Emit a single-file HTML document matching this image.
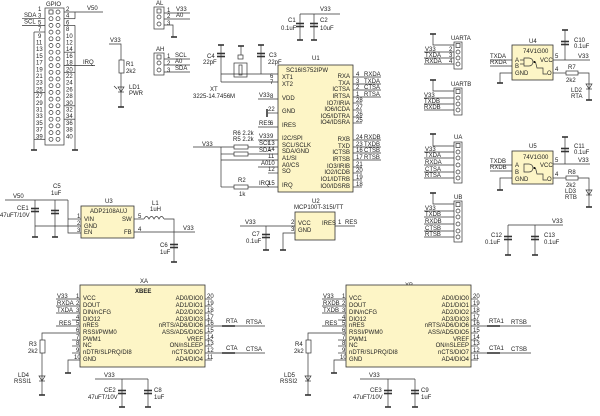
<!DOCTYPE html>
<html><head><meta charset="utf-8"><style>
html,body{margin:0;padding:0;background:#fff}
svg{display:block}
text{font-family:"Liberation Sans",sans-serif;font-size:6px;fill:#222}
.c{fill:#fdf5c6;stroke:#333;stroke-width:.8}
line,polyline,path{stroke:#333;stroke-width:.7;fill:none}
.g{stroke-width:1.6}
.b{fill:#fff;stroke:#333;stroke-width:.7}
</style></head><body>
<svg width="600" height="416" viewBox="0 0 600 416" xmlns="http://www.w3.org/2000/svg">
<defs>
<g id="pin"><circle cx="51" cy="0" r="2" class="b"/><circle cx="58" cy="0" r="2" class="b"/></g>
<g id="cap"><line x1="-4" y1="-1.5" x2="4" y2="-1.5" class="g"/><line x1="-4" y1="1.5" x2="4" y2="1.5" class="g"/></g>
<g id="gnd"><line x1="-3" y1="0" x2="3" y2="0" class="g"/></g>
<g id="led"><path d="M-3 -2 L3 -2 L0 3 Z" fill="#333"/><line x1="-3" y1="3" x2="3" y2="3"/></g>
</defs>

<!-- GPIO -->
<text x="46" y="6">GPIO</text>
<rect x="45" y="8" width="19" height="137" class="b"/>
<use href="#pin" y="12"/><use href="#pin" y="18.7"/><use href="#pin" y="25.4"/><use href="#pin" y="32.1"/><use href="#pin" y="38.8"/><use href="#pin" y="45.5"/><use href="#pin" y="52.2"/><use href="#pin" y="58.9"/><use href="#pin" y="65.6"/><use href="#pin" y="72.3"/><use href="#pin" y="79"/><use href="#pin" y="85.7"/><use href="#pin" y="92.4"/><use href="#pin" y="99.1"/><use href="#pin" y="105.8"/><use href="#pin" y="112.5"/><use href="#pin" y="119.2"/><use href="#pin" y="125.9"/><use href="#pin" y="132.6"/><use href="#pin" y="139.3"/>
<rect x="49" y="10" width="4" height="4" class="b"/>
<g font-size="5.5">
<text x="38" y="11">1</text><text x="38" y="17.7">3</text><text x="38" y="24.4">5</text><text x="38" y="31.1">7</text><text x="38" y="37.8">9</text><text x="36" y="44.5">11</text><text x="36" y="51.2">13</text><text x="36" y="57.9">15</text><text x="36" y="64.6">17</text><text x="36" y="71.3">19</text><text x="36" y="78">21</text><text x="36" y="84.7">23</text><text x="36" y="91.4">25</text><text x="36" y="98.1">27</text><text x="36" y="104.8">29</text><text x="36" y="111.5">31</text><text x="36" y="118.2">33</text><text x="36" y="124.9">35</text><text x="36" y="131.6">37</text><text x="36" y="138.3">39</text>
<text x="66" y="11">2</text><text x="66" y="17.7">4</text><text x="66" y="24.4">6</text><text x="66" y="31.1">8</text><text x="66" y="37.8">10</text><text x="66" y="44.5">12</text><text x="66" y="51.2">14</text><text x="66" y="57.9">16</text><text x="66" y="64.6">18</text><text x="66" y="71.3">20</text><text x="66" y="78">22</text><text x="66" y="84.7">24</text><text x="66" y="91.4">26</text><text x="66" y="98.1">28</text><text x="66" y="104.8">30</text><text x="66" y="111.5">32</text><text x="66" y="118.2">34</text><text x="66" y="124.9">36</text><text x="66" y="131.6">38</text><text x="66" y="138.3">40</text>
</g>
<line x1="64" y1="12" x2="103" y2="12"/><line x1="64" y1="18.7" x2="75" y2="18.7"/><line x1="75" y1="12" x2="75" y2="18.7"/>
<text x="87" y="10">V50</text>
<line x1="22" y1="18.7" x2="45" y2="18.7"/><text x="24" y="17">SDA</text>
<line x1="22" y1="25.4" x2="45" y2="25.4"/><text x="24" y="23.5">SCL</text>
<line x1="64" y1="65.6" x2="95" y2="65.6"/><text x="83" y="64">IRQ</text>
<line x1="34" y1="32" x2="45" y2="32"/><line x1="34" y1="32" x2="34" y2="150"/>
<line x1="34" y1="92.4" x2="45" y2="92.4"/><line x1="34" y1="139.3" x2="45" y2="139.3"/>
<line x1="64" y1="25.4" x2="75" y2="25.4"/><line x1="75" y1="25.4" x2="75" y2="150"/>
<line x1="64" y1="52.2" x2="75" y2="52.2"/><line x1="64" y1="72.3" x2="75" y2="72.3"/><line x1="64" y1="105.8" x2="75" y2="105.8"/><line x1="64" y1="119.2" x2="75" y2="119.2"/>
<use href="#gnd" x="34" y="150"/><use href="#gnd" x="75" y="150"/>

<!-- R1 LD1 -->
<text x="110" y="42">V33</text>
<polyline points="109,44 121,44 121,60"/>
<rect x="119" y="60" width="5" height="13" class="b"/>
<line x1="121" y1="73" x2="121" y2="107"/>
<use href="#led" x="121" y="89"/><use href="#gnd" x="121" y="107"/>
<text x="126" y="66">R1</text><text x="126" y="73">2k2</text>
<text x="129" y="89">LD1</text><text x="129" y="95">PWR</text>
<line x1="114" y1="86" x2="117" y2="89"/>

<!-- AL / AH -->
<text x="156" y="5">AL</text>
<rect x="154" y="7" width="10" height="22" class="b"/>
<rect x="157" y="9" width="4" height="4" class="b"/><circle cx="159" cy="17" r="2" class="b"/><circle cx="159" cy="24" r="2" class="b"/>
<text x="167" y="12">1</text><text x="167" y="18">2</text><text x="167" y="25">3</text>
<line x1="164" y1="13" x2="190" y2="13"/><text x="176" y="11">V33</text>
<line x1="164" y1="19" x2="190" y2="19"/><text x="176" y="17">A0</text>
<polyline points="164,25 173,25 173,37"/><use href="#gnd" x="174" y="37"/>
<text x="156" y="51">AH</text>
<rect x="154" y="53" width="10" height="22" class="b"/>
<rect x="157" y="55" width="4" height="4" class="b"/><circle cx="159" cy="63" r="2" class="b"/><circle cx="159" cy="70" r="2" class="b"/>
<text x="167" y="58">1</text><text x="167" y="65">2</text><text x="167" y="72">3</text>
<line x1="164" y1="59" x2="190" y2="59"/><text x="175" y="57">SCL</text>
<line x1="164" y1="65" x2="190" y2="65"/><text x="175" y="63">A0</text>
<line x1="164" y1="72" x2="190" y2="72"/><text x="175" y="70">SDA</text>

<!-- C1 C2 -->
<text x="288" y="22">C1</text><text x="281" y="30">0.1uF</text>
<text x="320" y="22">C2</text><text x="320" y="30">10uF</text>
<line x1="300" y1="14" x2="340" y2="14"/><text x="320" y="11">V33</text>
<line x1="300" y1="14" x2="300" y2="40"/><use href="#cap" x="300" y="25"/><use href="#gnd" x="300" y="40"/>
<line x1="314" y1="14" x2="314" y2="40"/><use href="#cap" x="314" y="25"/><use href="#gnd" x="314" y="40"/>

<!-- crystal -->
<use href="#gnd" x="221" y="45"/><line x1="221" y1="45" x2="221" y2="82"/><use href="#cap" x="221" y="55"/>
<use href="#gnd" x="261" y="45"/><line x1="261" y1="45" x2="261" y2="74"/><use href="#cap" x="261" y="55"/>
<text x="207" y="58">C4</text><text x="203" y="64">22pF</text>
<text x="269" y="57">C3</text><text x="268" y="64">22pF</text>
<rect x="234" y="63" width="13" height="14" class="b"/><rect x="239" y="65" width="3" height="10" class="b"/>
<rect x="238" y="55" width="5" height="4" class="b"/><line x1="241" y1="46" x2="241" y2="55"/><use href="#gnd" x="241" y="46"/>
<line x1="221" y1="74" x2="278" y2="74"/><polyline points="221,82 278,82"/>
<text x="210" y="91">XT</text><text x="193" y="98">3225-14.7456M</text>

<!-- U1 -->
<text x="312" y="60">U1</text>
<rect x="278" y="65" width="75" height="127" class="c"/>
<text x="286" y="72">SC16IS752IPW</text>
<g font-size="5.6">
<text x="282" y="79">XT1</text><text x="282" y="86">XT2</text><text x="282" y="100">VDD</text><text x="282" y="113">GND</text><text x="282" y="127">IRES</text><text x="282" y="140">I2C/SPI</text><text x="282" y="147">SCL/SCLK</text><text x="282" y="153">SDA/GND</text><text x="282" y="160">A1/SI</text><text x="282" y="167">A0/CS</text><text x="282" y="173">SO</text><text x="282" y="187">IRQ</text>
<g text-anchor="end"><text x="350" y="78">RXA</text><text x="350" y="85">TXA</text><text x="350" y="91">ICTSA</text><text x="350" y="98">IRTSA</text><text x="350" y="105">IO7/IRIA</text><text x="350" y="111">IO6/ICDA</text><text x="350" y="118">IO5/IDTRA</text><text x="350" y="124">IO4/IDSRA</text><text x="350" y="141">RXB</text><text x="350" y="148">TXD</text><text x="350" y="154">ICTSB</text><text x="350" y="161">IRTSB</text><text x="350" y="168">IO3/IRIB</text><text x="350" y="174">IO2/ICDB</text><text x="350" y="181">IO1/IDTRB</text><text x="350" y="188">IO0/IDSRB</text></g>
<text x="270" y="78">6</text><text x="270" y="84">7</text><text x="270" y="98">8</text><text x="268" y="111">22</text><text x="270" y="125">6</text><text x="270" y="138">9</text><text x="268" y="145">13</text><text x="268" y="151">14</text><text x="268" y="158">11</text><text x="268" y="165">10</text><text x="268" y="171">12</text><text x="268" y="185">15</text>
<text x="356" y="76">4</text><text x="356" y="83">3</text><text x="356" y="89">2</text><text x="356" y="96">1</text><text x="356" y="102">28</text><text x="356" y="109">27</text><text x="356" y="116">26</text><text x="356" y="122">25</text><text x="356" y="139">24</text><text x="356" y="146">23</text><text x="356" y="152">16</text><text x="356" y="159">17</text><text x="356" y="166">21</text><text x="356" y="172">20</text><text x="356" y="179">19</text><text x="356" y="186">18</text>
<text x="364" y="76">RXDA</text><text x="364" y="83">TXDA</text><text x="364" y="89">CTSA</text><text x="364" y="96">RTSA</text>
<text x="364" y="139">RXDB</text><text x="364" y="146">TXDB</text><text x="364" y="152">CTSB</text><text x="364" y="159">RTSB</text>
</g>
<g>
<line x1="353" y1="77" x2="381" y2="77"/><line x1="353" y1="84" x2="381" y2="84"/><line x1="353" y1="90" x2="381" y2="90"/><line x1="353" y1="97" x2="381" y2="97"/>
<line x1="353" y1="103" x2="362" y2="103"/><line x1="353" y1="110" x2="362" y2="110"/><line x1="353" y1="117" x2="362" y2="117"/><line x1="353" y1="123" x2="362" y2="123"/>
<line x1="353" y1="140" x2="381" y2="140"/><line x1="353" y1="147" x2="381" y2="147"/><line x1="353" y1="153" x2="381" y2="153"/><line x1="353" y1="160" x2="381" y2="160"/>
<line x1="353" y1="167" x2="362" y2="167"/><line x1="353" y1="173" x2="362" y2="173"/><line x1="353" y1="180" x2="362" y2="180"/><line x1="353" y1="187" x2="362" y2="187"/>
</g>
<line x1="258" y1="99" x2="278" y2="99"/><text x="259" y="97">V33</text>
<line x1="268" y1="113" x2="278" y2="113"/><line x1="267" y1="109" x2="267" y2="117" class="g"/>
<line x1="258" y1="127" x2="278" y2="127"/><text x="259" y="125">RES</text>
<line x1="258" y1="140" x2="278" y2="140"/><text x="259" y="138">V33</text>
<line x1="193" y1="147" x2="278" y2="147"/><text x="202" y="146">V33</text>
<line x1="221" y1="147" x2="221" y2="187"/>
<rect x="234" y="145" width="14" height="4" class="b"/><rect x="234" y="152" width="14" height="4" class="b"/>
<line x1="221" y1="154" x2="234" y2="154"/><line x1="248" y1="154" x2="278" y2="154"/>
<text x="259" y="145">SCL</text><text x="259" y="152">SDA</text>
<text x="233" y="135">R6 2.2k</text><text x="233" y="141">R5 2.2k</text>
<line x1="221" y1="160" x2="278" y2="160"/>
<line x1="258" y1="167" x2="278" y2="167"/><text x="261" y="165">A0</text>
<line x1="268" y1="173" x2="278" y2="173"/>
<line x1="221" y1="187" x2="234" y2="187"/><rect x="234" y="185" width="14" height="4" class="b"/><line x1="248" y1="187" x2="278" y2="187"/>
<text x="238" y="182">R2</text><text x="239" y="196">1k</text><text x="259" y="185">IRQ</text>

<!-- U2 -->
<text x="312" y="203">U2</text><text x="294" y="209">MCP100T-315I/TT</text>
<rect x="295" y="212" width="40" height="28" class="c"/>
<text x="298" y="225">VCC</text><text x="298" y="232">GND</text><text x="322" y="225">IRES</text>
<line x1="240" y1="226" x2="295" y2="226"/><text x="245" y="224">V33</text>
<text x="291" y="224">2</text><text x="291" y="231">3</text>
<line x1="266" y1="226" x2="266" y2="250"/><use href="#cap" x="266" y="236"/><use href="#gnd" x="266" y="250"/>
<text x="252" y="236">C7</text><text x="246" y="243">0.1uF</text>
<polyline points="295,233 283,233 283,250"/><use href="#gnd" x="283" y="250"/>
<line x1="335" y1="226" x2="355" y2="226"/><text x="338" y="224">1</text><text x="345" y="224">RES</text>

<!-- U3 -->
<text x="105" y="203">U3</text>
<rect x="81" y="206" width="53" height="32" class="c"/>
<text x="90" y="213">ADP2108AUJ</text>
<text x="84" y="221">VIN</text><text x="84" y="228">GND</text><text x="84" y="234">EN</text>
<text x="122" y="221">SW</text><text x="124" y="234">FB</text>
<text x="77" y="218">1</text><text x="77" y="225">2</text><text x="77" y="232">3</text><text x="138" y="218">5</text><text x="138" y="231">4</text>
<line x1="5" y1="200" x2="68" y2="200"/><text x="13" y="198">V50</text>
<polyline points="68,200 68,233 81,233"/><line x1="68" y1="219" x2="81" y2="219"/>
<line x1="35" y1="226" x2="81" y2="226"/>
<line x1="35" y1="200" x2="35" y2="237"/><use href="#cap" x="35" y="210"/><use href="#gnd" x="35" y="237"/>
<line x1="55" y1="200" x2="55" y2="237"/><use href="#cap" x="55" y="212"/><use href="#gnd" x="55" y="237"/>
<text x="17" y="210">CE1</text><text x="0" y="217">47uFT/10V</text>
<text x="53" y="188">C5</text><text x="51" y="195">1uF</text>
<line x1="134" y1="219" x2="144" y2="219"/>
<path d="M144 219 q2.5 -5 5 0 q2.5 -5 5 0 q2.5 -5 5 0 q2.5 -5 5 0"/>
<polyline points="164,219 174,219 174,262"/><use href="#cap" x="174" y="246"/><use href="#gnd" x="174" y="262"/>
<line x1="134" y1="232" x2="195" y2="232"/><text x="183" y="230">V33</text>
<text x="152" y="205">L1</text><text x="150" y="211">1uH</text>
<text x="160" y="247">C6</text><text x="160" y="254">1uF</text>

<!-- UARTA etc -->
<g id="uarta">
<text x="451" y="40">UARTA</text>
<rect x="454" y="42" width="8" height="27" class="b"/>
<rect x="456" y="43.5" width="4" height="4" class="b"/><circle cx="458" cy="52" r="2" class="b"/><circle cx="458" cy="58" r="2" class="b"/><circle cx="458" cy="64" r="2" class="b"/>
<polyline points="433,34 433,45 454,45"/><use href="#gnd" x="433" y="34"/>
<line x1="424" y1="52" x2="454" y2="52"/><line x1="424" y1="58" x2="454" y2="58"/><line x1="424" y1="64" x2="454" y2="64"/>
<text x="425" y="51">V33</text><text x="425" y="57">TXDA</text><text x="425" y="63">RXDA</text>
<text x="449" y="51">2</text><text x="449" y="57">3</text><text x="449" y="63">4</text>
</g>
<text x="451" y="86">UARTB</text>
<rect x="454" y="88" width="8" height="27" class="b"/>
<rect x="456" y="89.5" width="4" height="4" class="b"/><circle cx="458" cy="98" r="2" class="b"/><circle cx="458" cy="104" r="2" class="b"/><circle cx="458" cy="110" r="2" class="b"/>
<polyline points="433,80 433,91 454,91"/><use href="#gnd" x="433" y="80"/>
<line x1="424" y1="98" x2="454" y2="98"/><line x1="424" y1="104" x2="454" y2="104"/><line x1="424" y1="110" x2="454" y2="110"/>
<text x="424" y="97">V33</text><text x="424" y="103">TXDB</text><text x="424" y="109">RXDB</text>

<text x="454" y="139">UA</text>
<rect x="454" y="142" width="8" height="41" class="b"/>
<rect x="456" y="143.5" width="4" height="4" class="b"/><circle cx="458" cy="152" r="2" class="b"/><circle cx="458" cy="158" r="2" class="b"/><circle cx="458" cy="165" r="2" class="b"/><circle cx="458" cy="172" r="2" class="b"/><circle cx="458" cy="178" r="2" class="b"/>
<polyline points="433,134 433,146 454,146"/><use href="#gnd" x="433" y="134"/>
<line x1="424" y1="152" x2="454" y2="152"/><line x1="424" y1="158" x2="454" y2="158"/><line x1="424" y1="165" x2="454" y2="165"/><line x1="424" y1="172" x2="454" y2="172"/><line x1="424" y1="178" x2="454" y2="178"/>
<text x="425" y="151">V33</text><text x="425" y="157">TXDA</text><text x="425" y="164">RXDA</text><text x="425" y="171">CTSA</text><text x="425" y="177">RTSA</text>

<text x="454" y="199">UB</text>
<rect x="454" y="201" width="8" height="41" class="b"/>
<rect x="456" y="202.5" width="4" height="4" class="b"/><circle cx="458" cy="211" r="2" class="b"/><circle cx="458" cy="217" r="2" class="b"/><circle cx="458" cy="224" r="2" class="b"/><circle cx="458" cy="231" r="2" class="b"/><circle cx="458" cy="237" r="2" class="b"/>
<polyline points="433,193 433,204 454,204"/><use href="#gnd" x="433" y="193"/>
<line x1="424" y1="211" x2="454" y2="211"/><line x1="424" y1="217" x2="454" y2="217"/><line x1="424" y1="224" x2="454" y2="224"/><line x1="424" y1="231" x2="454" y2="231"/><line x1="424" y1="237" x2="454" y2="237"/>
<text x="425" y="210">V33</text><text x="425" y="216">TXDB</text><text x="425" y="223">RXDB</text><text x="425" y="230">CTSB</text><text x="425" y="236">RTSB</text>

<!-- U4 -->
<text x="529" y="43">U4</text>
<rect x="512" y="45" width="41" height="35" class="c"/>
<text x="523" y="53">74V1G00</text>
<text x="515" y="62">A</text><text x="515" y="68">B</text><text x="515" y="75">GND</text><text x="540" y="62">VCC</text><text x="547" y="75">O</text>
<path d="M524 58 h5 a4 4 0 0 1 0 8 h-5 z"/><circle cx="534.5" cy="62" r="1"/><polyline points="535.5,62 537,68 543,68 543,74 547,74"/>
<line x1="520" y1="60" x2="524" y2="60"/><line x1="520" y1="64" x2="524" y2="64"/>
<line x1="490" y1="60" x2="512" y2="60"/><line x1="490" y1="66" x2="512" y2="66"/>
<text x="490" y="58">TXDA</text><text x="490" y="64">RXDA</text>
<polyline points="512,73 500,73 500,83"/><use href="#gnd" x="500" y="83"/>
<line x1="553" y1="60" x2="590" y2="60"/><text x="578" y="58">V33</text><text x="555" y="58">5</text>
<line x1="565" y1="30" x2="565" y2="60"/><use href="#gnd" x="565" y="30"/><use href="#cap" x="565" y="43"/>
<text x="574" y="42">C10</text><text x="574" y="48">0.1uF</text>
<line x1="553" y1="73" x2="566" y2="73"/><text x="555" y="71">4</text>
<rect x="566" y="71" width="12" height="4" class="b"/><polyline points="578,73 589,73 589,100"/>
<use href="#led" x="589" y="86"/><use href="#gnd" x="589" y="100"/>
<text x="568" y="69">R7</text><text x="566" y="82">2k2</text><text x="571" y="92">LD2</text><text x="571" y="98">RTA</text>

<!-- U5 -->
<text x="529" y="148">U5</text>
<rect x="512" y="151" width="41" height="33" class="c"/>
<text x="523" y="159">74V1G00</text>
<text x="515" y="167">A</text><text x="515" y="174">B</text><text x="515" y="181">GND</text><text x="540" y="167">VCC</text><text x="547" y="181">O</text>
<path d="M524 164 h5 a4 4 0 0 1 0 8 h-5 z"/><circle cx="534.5" cy="168" r="1"/><polyline points="535.5,168 537,174 543,174 543,180 547,180"/>
<line x1="490" y1="165" x2="512" y2="165"/><line x1="490" y1="171" x2="512" y2="171"/>
<text x="490" y="163">TXDB</text><text x="490" y="169">RXDB</text>
<polyline points="512,178 500,178 500,190"/><use href="#gnd" x="500" y="190"/>
<line x1="553" y1="164" x2="590" y2="164"/><text x="578" y="162">V33</text><text x="555" y="162">5</text>
<line x1="565" y1="137" x2="565" y2="164"/><use href="#gnd" x="565" y="137"/><use href="#cap" x="565" y="150"/>
<text x="574" y="148">C11</text><text x="574" y="154">0.1uF</text>
<line x1="553" y1="178" x2="566" y2="178"/><text x="555" y="176">4</text>
<rect x="566" y="176" width="12" height="4" class="b"/><polyline points="578,178 589,178 589,207"/>
<use href="#led" x="589" y="192"/><use href="#gnd" x="589" y="207"/>
<text x="568" y="174">R8</text><text x="566" y="187">2k2</text><text x="565" y="193">LD3</text><text x="565" y="199">RTB</text>

<!-- C12 C13 -->
<line x1="508" y1="225" x2="563" y2="225"/><text x="552" y="223">V33</text>
<line x1="508" y1="225" x2="508" y2="255"/><use href="#cap" x="508" y="238"/><use href="#gnd" x="508" y="255"/>
<line x1="535" y1="225" x2="535" y2="255"/><use href="#cap" x="535" y="238"/><use href="#gnd" x="535" y="255"/>
<text x="491" y="237">C12</text><text x="485" y="244">0.1uF</text><text x="544" y="237">C13</text><text x="544" y="244">0.1uF</text>

<!-- XA -->
<text x="140" y="283">XA</text>
<rect x="80" y="285" width="125" height="82" class="c"/>
<text x="135" y="293" font-weight="bold">XBEE</text>
<g font-size="5.6">
<text x="83" y="300">VCC</text><text x="83" y="307">DOUT</text><text x="83" y="314">DIN/nCFG</text><text x="83" y="321">DIO12</text><text x="83" y="327">nRES</text><text x="83" y="334">RSSI/PWM0</text><text x="83" y="341">PWM1</text><text x="83" y="347">NC</text><text x="83" y="354">nDTR/SLPRQ/DI8</text><text x="83" y="361">GND</text>
<g text-anchor="end"><text x="203" y="300">AD0/DIO0</text><text x="203" y="307">AD1/DIO1</text><text x="203" y="314">AD2/DIO2</text><text x="203" y="321">AD3/DIO3</text><text x="203" y="327">nRTS/AD6/DIO6</text><text x="203" y="334">ASS/AD5/DIO5</text><text x="203" y="341">VREF</text><text x="203" y="347">ON/nSLEEP</text><text x="203" y="354">nCTS/DIO7</text><text x="203" y="361">AD4/DIO4</text></g>
<text x="76" y="298">1</text><text x="76" y="305">2</text><text x="76" y="312">3</text><text x="76" y="319">4</text><text x="76" y="325">5</text><text x="76" y="332">6</text><text x="76" y="339">7</text><text x="76" y="345">8</text><text x="76" y="352">9</text><text x="74" y="359">10</text>
<text x="207" y="298">20</text><text x="207" y="305">19</text><text x="207" y="312">18</text><text x="207" y="319">17</text><text x="207" y="325">16</text><text x="207" y="332">15</text><text x="207" y="339">14</text><text x="207" y="345">13</text><text x="207" y="352">12</text><text x="207" y="359">11</text>
<text x="57" y="298">V33</text><text x="57" y="305">RXDA</text><text x="57" y="312">TXDA</text><text x="59" y="325">RES</text>
</g>
<line x1="56" y1="299" x2="80" y2="299"/><line x1="56" y1="306" x2="80" y2="306"/><line x1="56" y1="313" x2="80" y2="313"/><line x1="72" y1="320" x2="80" y2="320"/><line x1="56" y1="326" x2="80" y2="326"/>
<polyline points="80,333 42,333 42,340"/><rect x="40" y="340" width="5" height="13" class="b"/><line x1="42" y1="353" x2="42" y2="395"/><use href="#led" x="42" y="378"/><use href="#gnd" x="42" y="395"/>
<line x1="72" y1="340" x2="80" y2="340"/><line x1="72" y1="346" x2="80" y2="346"/><line x1="72" y1="353" x2="80" y2="353"/>
<polyline points="80,360 68,360 68,373"/><use href="#gnd" x="68" y="373"/>
<text x="29" y="346">R3</text><text x="28" y="353">2k2</text><text x="18" y="377">LD4</text><text x="14" y="383">RSSI1</text>
<line x1="205" y1="299" x2="212" y2="299"/><line x1="205" y1="306" x2="212" y2="306"/><line x1="205" y1="313" x2="212" y2="313"/><line x1="205" y1="320" x2="212" y2="320"/><line x1="205" y1="333" x2="212" y2="333"/><line x1="205" y1="340" x2="212" y2="340"/><line x1="205" y1="346" x2="212" y2="346"/><line x1="205" y1="360" x2="212" y2="360"/>
<line x1="205" y1="326" x2="265" y2="326"/><line x1="222" y1="326" x2="235" y2="326" class="g"/><text x="226" y="323">RTA</text><text x="246" y="324">RTSA</text>
<line x1="205" y1="353" x2="265" y2="353"/><line x1="222" y1="353" x2="235" y2="353" class="g"/><text x="226" y="350">CTA</text><text x="246" y="351">CTSA</text>
<line x1="95" y1="379" x2="148" y2="379"/><text x="104" y="377">V33</text>
<line x1="122" y1="379" x2="122" y2="407"/><use href="#cap" x="122" y="392"/><use href="#gnd" x="122" y="407"/>
<line x1="148" y1="379" x2="148" y2="407"/><use href="#cap" x="148" y="392"/><use href="#gnd" x="148" y="407"/>
<text x="104" y="392">CE2</text><text x="88" y="399">47uFT/10V</text><text x="154" y="392">C8</text><text x="154" y="399">1uF</text>

<!-- XB -->
<text x="405" y="287">XB</text>
<rect x="346" y="285" width="125" height="82" class="c"/>
<g font-size="5.6">
<text x="349" y="300">VCC</text><text x="349" y="307">DOUT</text><text x="349" y="314">DIN/nCFG</text><text x="349" y="321">DIO12</text><text x="349" y="327">nRES</text><text x="349" y="334">RSSI/PWM0</text><text x="349" y="341">PWM1</text><text x="349" y="347">NC</text><text x="349" y="354">nDTR/SLPRQ/DI8</text><text x="349" y="361">GND</text>
<g text-anchor="end"><text x="469" y="300">AD0/DIO0</text><text x="469" y="307">AD1/DIO1</text><text x="469" y="314">AD2/DIO2</text><text x="469" y="321">AD3/DIO3</text><text x="469" y="327">nRTS/AD6/DIO6</text><text x="469" y="334">ASS/AD5/DIO5</text><text x="469" y="341">VREF</text><text x="469" y="347">ON/nSLEEP</text><text x="469" y="354">nCTS/DIO7</text><text x="469" y="361">AD4/DIO4</text></g>
<text x="342" y="298">1</text><text x="342" y="305">2</text><text x="342" y="312">3</text><text x="342" y="319">4</text><text x="342" y="325">5</text><text x="342" y="332">6</text><text x="342" y="339">7</text><text x="342" y="345">8</text><text x="342" y="352">9</text><text x="340" y="359">10</text>
<text x="473" y="298">20</text><text x="473" y="305">19</text><text x="473" y="312">18</text><text x="473" y="319">17</text><text x="473" y="325">16</text><text x="473" y="332">15</text><text x="473" y="339">14</text><text x="473" y="345">13</text><text x="473" y="352">12</text><text x="473" y="359">11</text>
<text x="323" y="298">V33</text><text x="323" y="305">RXDB</text><text x="323" y="312">TXDB</text><text x="325" y="325">RES</text>
</g>
<line x1="322" y1="299" x2="346" y2="299"/><line x1="322" y1="306" x2="346" y2="306"/><line x1="322" y1="313" x2="346" y2="313"/><line x1="338" y1="320" x2="346" y2="320"/><line x1="322" y1="326" x2="346" y2="326"/>
<polyline points="346,333 308,333 308,340"/><rect x="306" y="340" width="5" height="13" class="b"/><line x1="308" y1="353" x2="308" y2="395"/><use href="#led" x="308" y="378"/><use href="#gnd" x="308" y="395"/>
<line x1="338" y1="340" x2="346" y2="340"/><line x1="338" y1="346" x2="346" y2="346"/><line x1="338" y1="353" x2="346" y2="353"/>
<polyline points="346,360 334,360 334,373"/><use href="#gnd" x="334" y="373"/>
<text x="295" y="346">R4</text><text x="294" y="353">2k2</text><text x="284" y="377">LD5</text><text x="280" y="383">RSSI2</text>
<line x1="471" y1="299" x2="478" y2="299"/><line x1="471" y1="306" x2="478" y2="306"/><line x1="471" y1="313" x2="478" y2="313"/><line x1="471" y1="320" x2="478" y2="320"/><line x1="471" y1="333" x2="478" y2="333"/><line x1="471" y1="340" x2="478" y2="340"/><line x1="471" y1="346" x2="478" y2="346"/><line x1="471" y1="360" x2="478" y2="360"/>
<line x1="471" y1="326" x2="531" y2="326"/><line x1="487" y1="326" x2="500" y2="326" class="g"/><text x="489" y="323">RTA1</text><text x="511" y="324">RTSB</text>
<line x1="471" y1="353" x2="531" y2="353"/><line x1="487" y1="353" x2="500" y2="353" class="g"/><text x="489" y="350">CTA1</text><text x="511" y="351">CTSB</text>
<line x1="360" y1="379" x2="415" y2="379"/><text x="369" y="377">V33</text>
<line x1="388" y1="379" x2="388" y2="407"/><use href="#cap" x="388" y="392"/><use href="#gnd" x="388" y="407"/>
<line x1="415" y1="379" x2="415" y2="407"/><use href="#cap" x="415" y="392"/><use href="#gnd" x="415" y="407"/>
<text x="370" y="392">CE3</text><text x="353" y="399">47uFT/10V</text><text x="421" y="392">C9</text><text x="421" y="399">1uF</text>
</svg>
</body></html>
